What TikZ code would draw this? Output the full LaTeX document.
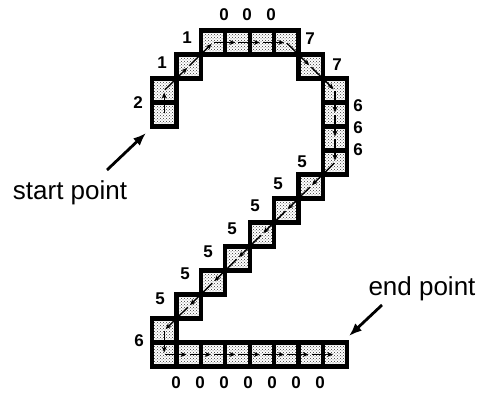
\documentclass[tikz,border=0pt]{standalone}
\usepackage{fontspec}
\setmainfont{Liberation Sans}
\usetikzlibrary{patterns,arrows.meta}
\begin{document}
\begin{tikzpicture}[x=1pt,y=-1pt,
  cell/.style={rectangle,minimum width=24.4pt,minimum height=24pt,inner sep=0pt,
    draw=black,line width=4.2pt,pattern=crosshatch dots,pattern color=black!80},
  code/.style={inner sep=0pt,font=\fontsize{17}{17}\selectfont\bfseries},
  caption/.style={inner sep=0pt,anchor=base,font=\fontsize{26}{26}\selectfont},
  chain/.style={line width=1.4pt,-{Stealth[length=6pt,width=5pt]},shorten >=2pt,shorten <=1pt},
  pointer/.style={line width=2.8pt,-{Latex[length=13pt,width=10pt]}}]
\useasboundingbox (0,0) rectangle (480,393);
% chain cells (col,row)
\foreach \c/\r [count=\i] in {0/3,0/2,1/1,2/0,3/0,4/0,5/0,6/1,7/2,7/3,7/4,7/5,6/6,5/7,4/8,3/9,2/10,1/11,0/12,0/13,1/13,2/13,3/13,4/13,5/13,6/13,7/13}
  \node[cell] (c\i) at ({152+24.4*\c+12.2},{30.5+24*\r+12}) {};
% chain direction arrows
\foreach \i [evaluate=\i as \j using int(\i+1)] in {1,...,26}
  \draw[chain] (c\i.center) -- (c\j.center);
% chain code labels
\node[code] (l2) at (138,103) {2};
\node[code] (l1a) at (162,63) {1};
\node[code] (l1b) at (187,38) {1};
\node[code] (t0a) at (224,15) {0};
\node[code] (t0b) at (247,15) {0};
\node[code] (t0c) at (271,15) {0};
\node[code] (l7a) at (310,39) {7};
\node[code] (l7b) at (337,65) {7};
\node[code] (l6a) at (358,106) {6};
\node[code] (l6b) at (358,128) {6};
\node[code] (l6c) at (358,150) {6};
\node[code] (l5a) at (302,162) {5};
\node[code] (l5b) at (278,184) {5};
\node[code] (l5c) at (255,206) {5};
\node[code] (l5d) at (232,229) {5};
\node[code] (l5e) at (208,252) {5};
\node[code] (l5f) at (185,274) {5};
\node[code] (l5g) at (160,299) {5};
\node[code] (l6d) at (139,341) {6};
\foreach \x [count=\k] in {176,200,224,248,272,296,320}
  \node[code] (b\k) at (\x,383) {0};
% captions and pointers
\node[caption] (start) at (70,200) {start point};
\node[caption] (end) at (422,295) {end point};
\coordinate (stail) at (107,170);
\coordinate (stip) at (146,133);
\coordinate (etail) at (382,305);
\coordinate (etip) at (349,336);
\draw[pointer] (stail) -- (stip);
\draw[pointer] (etail) -- (etip);
\end{tikzpicture}
\end{document}
